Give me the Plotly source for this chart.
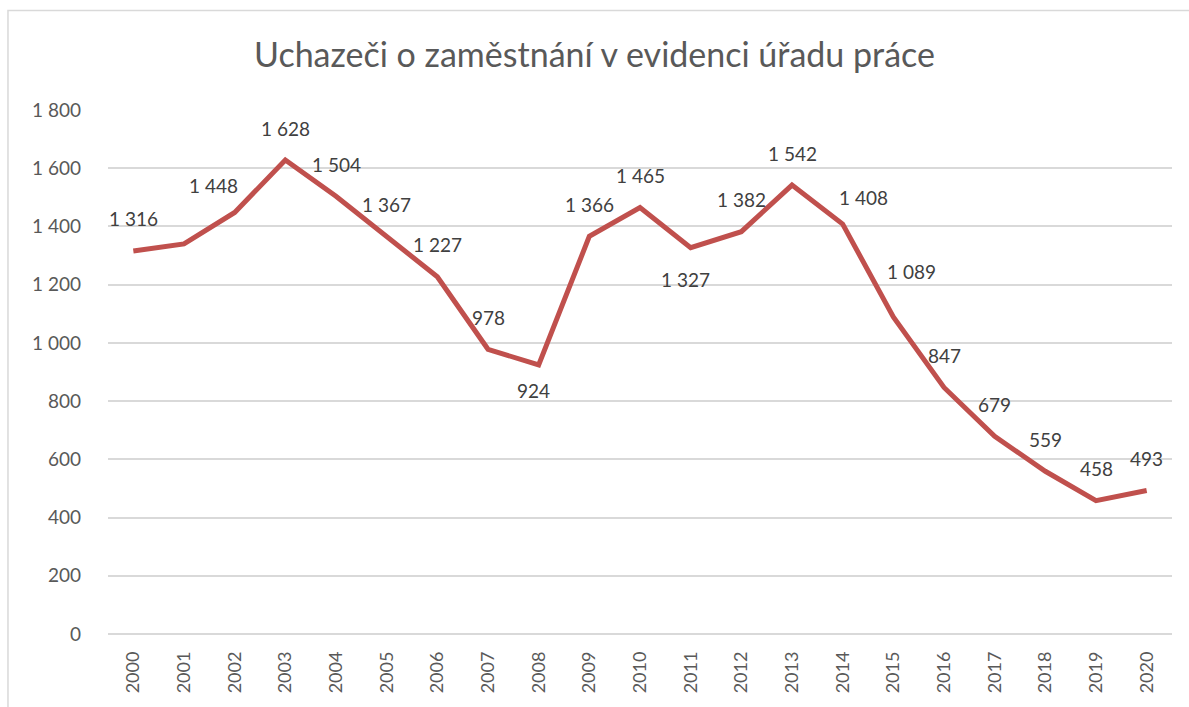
import plotly.graph_objects as go

years = [str(y) for y in range(2000, 2021)]
uchazeci = [1316, 1340, 1448, 1628, 1504, 1367, 1227, 978, 924, 1366, 1465,
            1327, 1382, 1542, 1408, 1089, 847, 679, 559, 458, 493]
# which points carry a data label (2001 has none in the source)
show_label = [True, False] + [True] * 19

# label placement relative to the point, in pixels (dx, dy)
label_offsets = {
    "2002": (-21, 27),
    "2008": (-5, -25),
    "2011": (-5, -32),
    "2014": (21, 27),
    "2015": (18, 45),
}
default_offset = (0, 32)

TEXT = "#595959"
GRID = "#D9D9D9"
LINE = "#C0504D"
FONT = "Lato"


def fmt(v):
    return f"{v:,}".replace(",", " ")


fig = go.Figure()

fig.add_trace(
    go.Scatter(
        x=years,
        y=uchazeci,
        mode="lines",
        line={"color": LINE, "width": 5},
        hoverinfo="skip",
        showlegend=False,
    )
)

annotations = []
for i, (year, value, show) in enumerate(zip(years, uchazeci, show_label)):
    if not show:
        continue
    dx, dy = label_offsets.get(year, default_offset)
    annotations.append(
        dict(
            # category axis: position by category index
            x=i,
            y=value,
            xref="x",
            yref="y",
            text=fmt(value),
            showarrow=False,
            xshift=dx,
            yshift=dy,
            font=dict(family=FONT, size=19, color="#404040"),
        )
    )

fig.update_layout(
    width=1189,
    height=707,
    paper_bgcolor="white",
    plot_bgcolor="white",
    separators=", ",
    title=dict(
        text="Uchazeči o zaměstnání v evidenci úřadu práce",
        x=0.5,
        xanchor="center",
        y=0.922,
        yanchor="middle",
        font=dict(family=FONT, size=34, color=TEXT),
    ),
    margin=dict(l=108, r=17, t=110, b=73),
    annotations=annotations,
    shapes=[
        dict(
            type="rect",
            xref="paper",
            yref="paper",
            x0=-0.094,
            x1=1.05,
            y0=-0.2,
            y1=1.19,
            line=dict(color=GRID, width=1.5),
            layer="below",
        )
    ],
)

fig.update_xaxes(
    type="category",
    range=[-0.5, len(years) - 0.5],
    tickangle=-90,
    tickfont=dict(family=FONT, size=18, color=TEXT),
    showgrid=False,
    showline=False,
    zeroline=False,
    ticks="",
    ticklabelstandoff=13,
)

fig.update_yaxes(
    range=[0, 1800],
    tickvals=[0, 200, 400, 600, 800, 1000, 1200, 1400, 1600, 1800],
    tickformat=",d",
    tickfont=dict(family=FONT, size=19, color=TEXT),
    showgrid=True,
    gridcolor=GRID,
    gridwidth=1.5,
    zeroline=True,
    zerolinecolor=GRID,
    zerolinewidth=1.5,
    showline=False,
    ticks="",
    ticklabelstandoff=26,
)

# drop the browser's default body margin so the figure sits at the page origin
fig.write_html(
    "out.html",
    config={"displayModeBar": False},
    post_script="document.body.style.margin='0';",
)
